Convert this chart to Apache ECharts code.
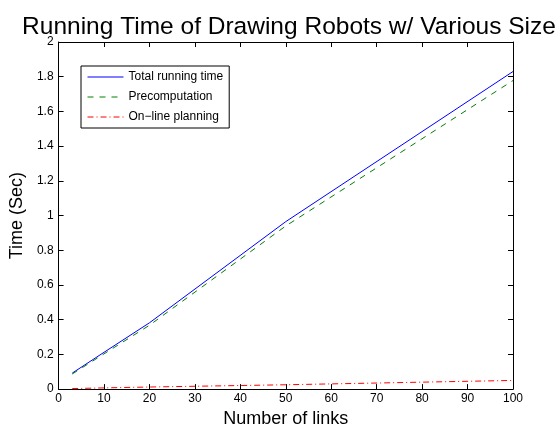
<!DOCTYPE html>
<html><head><meta charset="utf-8">
<script src="https://cdn.jsdelivr.net/npm/echarts@6/dist/echarts.min.js"></script>
<style>html,body{margin:0;padding:0;background:#fff}#c{width:560px;height:433px}</style>
</head><body><div id="c"></div>
<script>
const links = [3, 10, 20, 50, 100];
const totalTime = [0.092, 0.212, 0.382, 0.965, 1.830];
const precomputation = [0.087, 0.203, 0.368, 0.940, 1.778];
const onlinePlanning = [0.003, 0.007, 0.012, 0.025, 0.050];
const seriesNames = ['Total running time', 'Precomputation', 'On\u2212line planning'];

const font = 'Liberation Sans, Arial, Helvetica, sans-serif';
const pair = (xs, ys) => xs.map((x, i) => [x, ys[i]]);
const chart = echarts.init(document.getElementById('c'), null, {renderer: 'canvas'});
const tickStyle = {show: true, inside: true, length: 5, lineStyle: {color: '#000', width: 1}};
chart.setOption({
  animation: false,
  backgroundColor: '#fff',
  title: {text: 'Running Time of Drawing Robots w/ Various Size', left: 284, top: 10, textAlign: 'center',
    textStyle: {fontFamily: font, fontSize: 24.5, fontWeight: 'normal', color: '#000'}},
  grid: {left: 57, right: 47, top: 42, bottom: 35, containLabel: false},
  legend: {
    left: 81, top: 66, orient: 'vertical', itemWidth: 36, itemHeight: 10, itemGap: 8,
    padding: [5, 6, 5, 6], borderColor: '#000', borderWidth: 1, backgroundColor: '#fff', borderRadius: 0,
    textStyle: {fontFamily: font, fontSize: 12, color: '#000'},
    itemStyle: {opacity: 0}, lineStyle: {width: 1},
    data: seriesNames
  },
  xAxis: [
    {type: 'value', min: 0, max: 100, interval: 10, position: 'bottom',
      axisLine: {show: true, onZero: false, lineStyle: {color: '#000', width: 1}},
      axisTick: tickStyle, splitLine: {show: false},
      axisLabel: {fontFamily: font, fontSize: 12, color: '#000', margin: 4},
      name: 'Number of links', nameLocation: 'middle', nameGap: 18,
      nameTextStyle: {fontFamily: font, fontSize: 18, color: '#000', verticalAlign: 'top'}},
    {type: 'value', min: 0, max: 100, interval: 10, position: 'top',
      axisLine: {show: true, onZero: false, lineStyle: {color: '#000', width: 1}},
      axisTick: tickStyle, axisLabel: {show: false}, splitLine: {show: false}}
  ],
  yAxis: [
    {type: 'value', min: 0, max: 2, interval: 0.2, position: 'left',
      axisLine: {show: true, onZero: false, lineStyle: {color: '#000', width: 1}},
      axisTick: tickStyle, splitLine: {show: false},
      axisLabel: {fontFamily: font, fontSize: 12, color: '#000', margin: 5,
        formatter: v => String(Math.round(v * 10) / 10)},
      name: 'Time (Sec)', nameLocation: 'middle', nameGap: 25,
      nameTextStyle: {fontFamily: font, fontSize: 18, color: '#000'}},
    {type: 'value', min: 0, max: 2, interval: 0.2, position: 'right',
      axisLine: {show: true, onZero: false, lineStyle: {color: '#000', width: 1}},
      axisTick: tickStyle, axisLabel: {show: false}, splitLine: {show: false}}
  ],
  series: [
    {name: seriesNames[0], type: 'line', data: pair(links, totalTime), symbol: 'none',
      lineStyle: {color: '#0000ff', width: 1}, itemStyle: {color: '#0000ff'}},
    {name: seriesNames[1], type: 'line', data: pair(links, precomputation), symbol: 'none',
      lineStyle: {color: '#008000', width: 1, type: [6, 6]}, itemStyle: {color: '#008000'}},
    {name: seriesNames[2], type: 'line', data: pair(links, onlinePlanning), symbol: 'none',
      lineStyle: {color: '#ff0000', width: 1, type: [6, 3, 1, 3]}, itemStyle: {color: '#ff0000'}}
  ]
});
</script></body></html>
